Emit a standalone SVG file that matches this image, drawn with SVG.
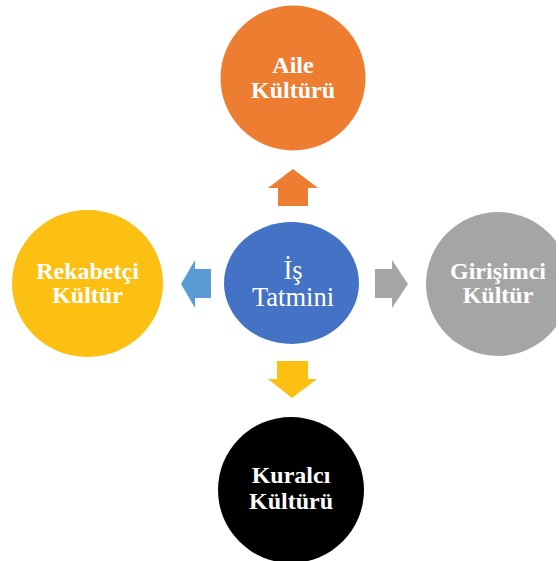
<svg xmlns="http://www.w3.org/2000/svg" width="559" height="561" viewBox="0 0 559 561">
  <style>
    .lbl { font-family: "Liberation Serif", "Times New Roman", serif; font-weight: bold; font-size: 24px; fill: #ffffff; text-anchor: middle; }
    .ctr { font-family: "Liberation Serif", "Times New Roman", serif; font-size: 26.5px; fill: #ffffff; text-anchor: middle; }
  </style>
  <defs>
    <clipPath id="page"><rect x="0" y="0" width="556" height="561"/></clipPath>
  </defs>
  <rect width="559" height="561" fill="#ffffff"/>
  <g id="connectors">
    <polygon points="293,169 318,188 308,188 308,206 278,206 278,188 268,188" fill="#ED7D31"/>
    <polygon points="181,284 195,260 195,269 211,269 211,298 195,298 195,308" fill="#5B9BD5"/>
    <polygon points="408,284 392,260 392,269 375,269 375,298 392,298 392,308" fill="#A5A5A5"/>
    <polygon points="277,361 308,361 308,379 317,379 292,398 268,379 277,379" fill="#FBC012"/>
  </g>
  <g id="aile">
    <circle cx="293" cy="78" r="72.5" fill="#ED7D31"/>
    <text class="lbl" x="293" y="73">Aile</text>
    <text class="lbl" x="293" y="98">Kültürü</text>
  </g>
  <g id="is-tatmini">
    <ellipse cx="291.5" cy="283" rx="67.5" ry="61" fill="#4472C4"/>
    <text class="ctr" x="293" y="279">İş</text>
    <text class="ctr" x="293" y="306">Tatmini</text>
  </g>
  <g id="rekabetci">
    <ellipse cx="87.5" cy="283.5" rx="75.5" ry="73.5" fill="#FBC012"/>
    <text class="lbl" x="87.5" y="279">Rekabetçi</text>
    <text class="lbl" x="87.5" y="303">Kültür</text>
  </g>
  <g id="girisimci" clip-path="url(#page)">
    <circle cx="498" cy="284" r="72" fill="#A5A5A5"/>
    <text class="lbl" x="498" y="279">Girişimci</text>
    <text class="lbl" x="498" y="303">Kültür</text>
  </g>
  <g id="kuralci">
    <circle cx="291" cy="490" r="73" fill="#000000"/>
    <text class="lbl" x="291" y="483">Kuralcı</text>
    <text class="lbl" x="291" y="509">Kültürü</text>
  </g>
</svg>
